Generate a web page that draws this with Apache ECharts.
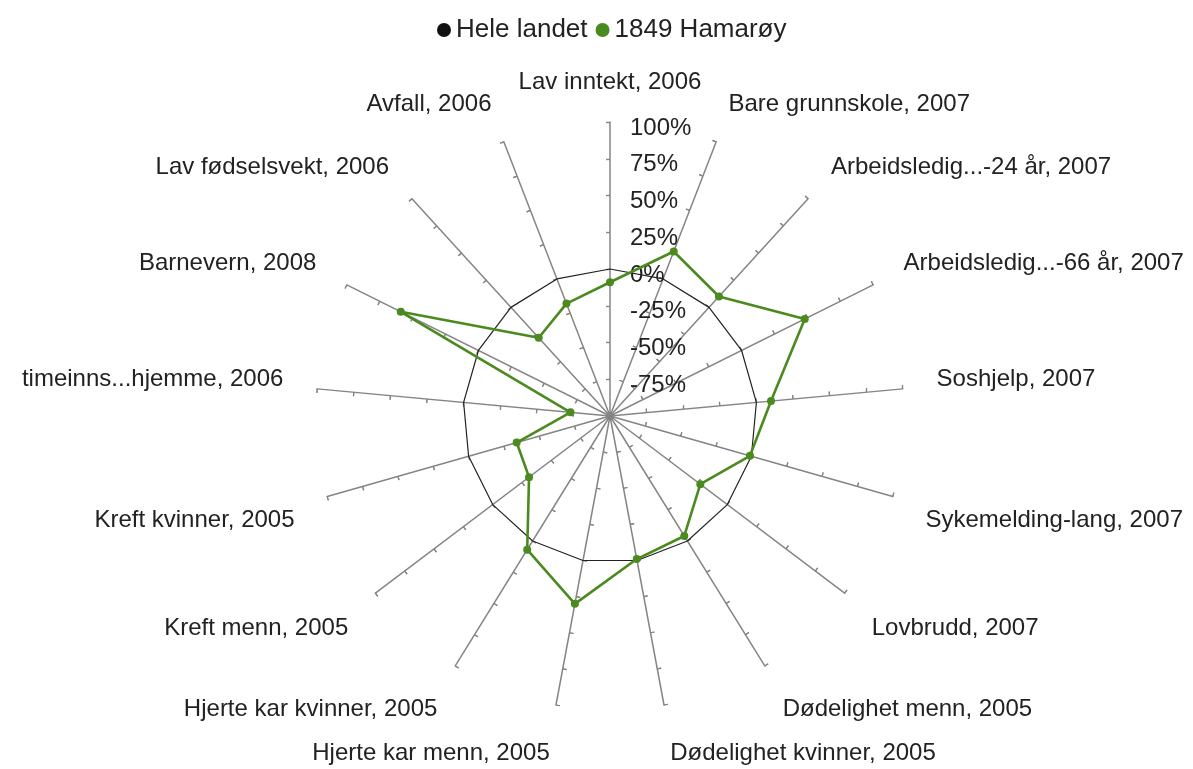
<!DOCTYPE html>
<html>
<head>
<meta charset="utf-8">
<title>Hamarøy</title>
<script src="https://cdn.jsdelivr.net/npm/echarts@6/dist/echarts.min.js"></script>
<style>
  html, body { margin: 0; padding: 0; background: #fff; }
  #chart { width: 1193px; height: 769px; }
</style>
</head>
<body>
<div id="chart"></div>
<script>
// Indicators, clockwise from the top
const categories = [
  'Lav inntekt, 2006',
  'Bare grunnskole, 2007',
  'Arbeidsledig...-24 år, 2007',
  'Arbeidsledig...-66 år, 2007',
  'Soshjelp, 2007',
  'Sykemelding-lang, 2007',
  'Lovbrudd, 2007',
  'Dødelighet menn, 2005',
  'Dødelighet kvinner, 2005',
  'Hjerte kar menn, 2005',
  'Hjerte kar kvinner, 2005',
  'Kreft menn, 2005',
  'Kreft kvinner, 2005',
  'timeinns...hjemme, 2006',
  'Barnevern, 2008',
  'Lav fødselsvekt, 2006',
  'Avfall, 2006'
];

// Deviation from the national level, in percent
const heleLandet = [0, 0, 0, 0, 0, 0, 0, 0, 0, 0, 0, 0, 0, 0, 0, 0, 0];
const hamaroy = [-9, 20, 10, 48, 10, -1, -23, -4, -1, 30, 7, -31, -34, -73, 59, -28, -18];

// Scale of every spoke
const scaleMin = -100;
const scaleMax = 100;
const scaleStep = 25;

const seriesNames = ['Hele landet', '1849 Hamarøy'];

// ECharts lays radar indicators out counter-clockwise; reorder to run clockwise
const order = [0].concat(categories.map((_, i) => i).slice(1).reverse());
const pick = arr => order.map(i => arr[i]);

const FONT = "'Liberation Sans', Arial, sans-serif";
const TEXT = '#222';
const SPOKE = '#858585';
const CENTER = [610, 416];
const RADIUS = 294;

// label style key by where the spoke points: top, upper half, lower half
const nameStyleOf = name => {
  const i = categories.indexOf(name);
  const deg = i * 360 / categories.length;
  if (i === 0) return 'top';
  return (deg < 90 || deg > 270) ? 'up' : 'down';
};

const indicators = pick(categories).map(name => ({ name, min: scaleMin, max: scaleMax }));

const chart = echarts.init(document.getElementById('chart'), null, { renderer: 'canvas' });

const baseRadar = {
  center: CENTER,
  radius: RADIUS,
  startAngle: 90,
  splitNumber: (scaleMax - scaleMin) / scaleStep,
  shape: 'polygon',
  splitLine: { show: false },
  splitArea: { show: false }
};

const tickStyle = { color: SPOKE, width: 1.2 };
const textBase = { fontFamily: FONT, fontSize: 24, color: TEXT };

chart.setOption({
  animation: false,
  backgroundColor: '#fff',
  legend: {
    top: 12,
    left: 432,
    icon: 'circle',
    itemWidth: 14,
    itemHeight: 14,
    itemGap: 8,
    textStyle: { fontFamily: FONT, fontSize: 26, color: TEXT },
    data: seriesNames
  },
  radar: [
    Object.assign({}, baseRadar, {
      indicator: indicators,
      nameGap: 34,
      axisName: Object.assign({}, textBase, {
        formatter: name => '{' + nameStyleOf(name) + '|' + name + '}',
        rich: {
          top: Object.assign({}, textBase, { lineHeight: 12 }),
          up: Object.assign({}, textBase, { padding: [0, 0, 12, 0] }),
          down: Object.assign({}, textBase, { padding: [30, 0, 0, 0] })
        }
      }),
      axisLine: { lineStyle: { color: SPOKE, width: 1.5 } },
      axisTick: { show: true, length: 4, lineStyle: tickStyle }
    }),
    // second pass: ticks on the other side of each spoke
    Object.assign({}, baseRadar, {
      indicator: indicators.map(d => ({ name: '', min: d.min, max: d.max })),
      axisName: { show: false },
      axisLine: { show: false },
      axisTick: { show: true, inside: true, length: 4, lineStyle: tickStyle }
    })
  ],
  polar: { center: CENTER, radius: RADIUS },
  angleAxis: {
    startAngle: 90,
    show: false,
    min: 0,
    max: 360
  },
  radiusAxis: {
    min: scaleMin,
    max: scaleMax,
    interval: scaleStep,
    axisLine: { show: false },
    axisTick: { show: false },
    splitLine: { show: false },
    axisLabel: Object.assign({}, textBase, {
      showMinLabel: false,
      margin: -20,
      align: 'left',
      formatter: v => '{p|' + v + '%}',
      rich: { p: Object.assign({}, textBase, { padding: [12, 0, 0, 0] }) }
    })
  },
  series: [
    {
      name: seriesNames[0],
      type: 'radar',
      radarIndex: 0,
      symbol: 'none',
      itemStyle: { color: '#111' },
      lineStyle: { color: '#222', width: 1.2 },
      data: [{ value: pick(heleLandet), name: seriesNames[0] }]
    },
    {
      name: seriesNames[1],
      type: 'radar',
      radarIndex: 0,
      symbol: 'circle',
      symbolSize: 8,
      itemStyle: { color: '#4a8a1e' },
      lineStyle: { color: '#4a8a1e', width: 2.6 },
      data: [{ value: pick(hamaroy), name: seriesNames[1] }]
    }
  ]
});
</script>
</body>
</html>
